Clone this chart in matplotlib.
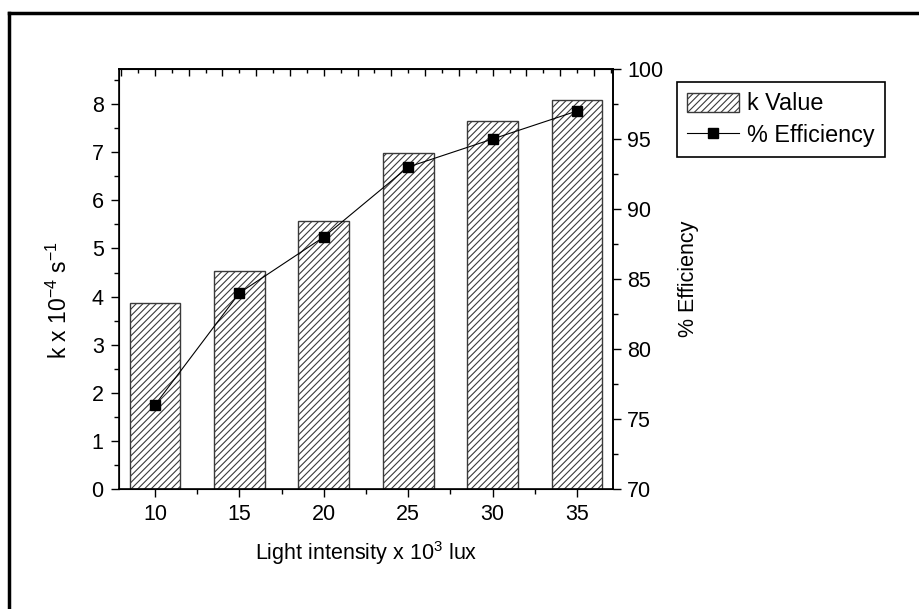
import matplotlib
matplotlib.use("Agg")
import matplotlib.pyplot as plt
from matplotlib.lines import Line2D
from matplotlib.ticker import MultipleLocator

plt.rcParams['font.family'] = ['Liberation Sans', 'DejaVu Sans']
plt.rcParams['mathtext.fontset'] = 'custom'
plt.rcParams['mathtext.rm'] = 'Liberation Sans'
plt.rcParams['mathtext.it'] = 'Liberation Sans'
plt.rcParams['hatch.linewidth'] = 0.8

# Data
light_intensity = [10, 15, 20, 25, 30, 35]
k_value = [3.86, 4.54, 5.57, 6.98, 7.65, 8.09]
efficiency = [76, 84, 88, 93, 95, 97]

TICK_FS = 15.5
LABEL_FS = 15.5

fig = plt.figure(figsize=(9.2, 6.09), dpi=100)
ax = fig.add_axes([119/920, 1 - 489/609, (613 - 119)/920, (489 - 69)/609])

bars = ax.bar(light_intensity, k_value, width=3.0, color='white',
              edgecolor='#3a3a3a', linewidth=1.0, hatch='/////', zorder=2,
              label='k Value')

ax.set_xlim(7.87, 37.13)
ax.set_ylim(0, 8.73)
ax.set_xticks(light_intensity)
ax.xaxis.set_minor_locator(MultipleLocator(2.5))
ax.yaxis.set_major_locator(MultipleLocator(1))
ax.yaxis.set_minor_locator(MultipleLocator(0.5))
ax.tick_params(axis='both', which='major', direction='out', length=6, width=1,
               labelsize=TICK_FS, colors='black')
ax.tick_params(axis='x', which='major', pad=5)
ax.tick_params(axis='y', which='major', pad=5)
ax.tick_params(axis='both', which='minor', direction='out', length=3.5, width=1)
ax.tick_params(axis='x', which='both', top=False)
for s in ax.spines.values():
    s.set_linewidth(1.2)

ax.set_xlabel(r'Light intensity x 10$^{3}$ lux', fontsize=LABEL_FS, labelpad=10)
ax.set_ylabel(r'k x 10$^{-4}$ s$^{-1}$', fontsize=16.5)
ax.yaxis.set_label_coords(-0.095, 0.45)

# Top axis with inward ticks only
axt = ax.secondary_xaxis('top')
axt.xaxis.set_major_locator(MultipleLocator(2))
axt.xaxis.set_minor_locator(MultipleLocator(1))
axt.tick_params(axis='x', which='major', direction='in', length=5, width=1,
                labeltop=False)
axt.tick_params(axis='x', which='minor', direction='in', length=3, width=1)
axt.spines['top'].set_linewidth(1.2)

# Right axis: efficiency
ax2 = ax.twinx()
line, = ax2.plot(light_intensity, efficiency, color='black', linewidth=0.8,
                 marker='s', markersize=7.7, markerfacecolor='black',
                 markeredgecolor='black', zorder=3, label='% Efficiency')
ax2.set_ylim(70, 100)
ax2.yaxis.set_major_locator(MultipleLocator(5))
ax2.yaxis.set_minor_locator(MultipleLocator(2.5))
ax2.tick_params(axis='y', which='major', direction='out', length=6, width=1,
                labelsize=TICK_FS, pad=4)
ax2.tick_params(axis='y', which='minor', direction='out', length=3.5, width=1)
ax2.spines['right'].set_linewidth(1.2)
ax2.set_ylabel('% Efficiency', fontsize=LABEL_FS, labelpad=11)

leg = fig.legend([bars, line], ['k Value', '% Efficiency'],
                 loc='upper left', bbox_to_anchor=(677/920, 1 - 82/609),
                 fontsize=16.8, frameon=True, fancybox=False, framealpha=1,
                 edgecolor='black', handlelength=2.2, handleheight=0.85,
                 handletextpad=0.35, borderpad=0.45, labelspacing=0.35,
                 borderaxespad=0)
leg.get_frame().set_linewidth(1.2)

# Outer frame
fig.add_artist(Line2D([9.5/920, 9.5/920], [0, 1 - 13/609], color='black',
                      linewidth=2.5, transform=fig.transFigure))
fig.add_artist(Line2D([9.5/920, 1], [1 - 13/609, 1 - 13/609], color='black',
                      linewidth=2.5, transform=fig.transFigure))

fig.savefig('out.png', dpi=100)
